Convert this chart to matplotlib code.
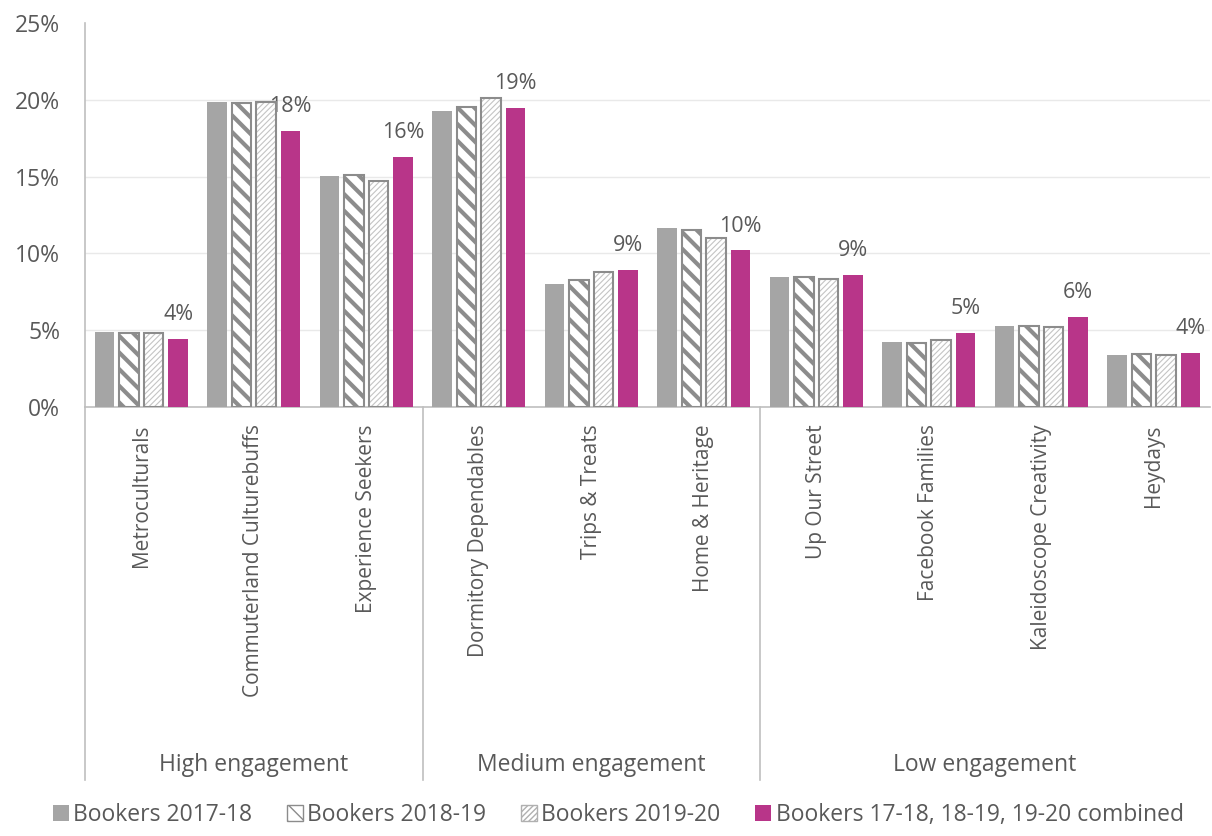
import matplotlib
matplotlib.use("Agg")
import matplotlib.pyplot as plt
import matplotlib.transforms as mtransforms
from matplotlib.patches import Patch

# segment shares by booking year
segments = ["Metroculturals", "Commuterland Culturebuffs", "Experience Seekers",
            "Dormitory Dependables", "Trips & Treats", "Home & Heritage",
            "Up Our Street", "Facebook Families", "Kaleidoscope Creativity", "Heydays"]
groups = ["High engagement", "Medium engagement", "Low engagement"]
group_sizes = [3, 3, 4]

bookers_1718 = [4.88, 19.86, 15.04, 19.27, 8.0, 11.65, 8.46, 4.2, 5.3, 3.4]
bookers_1819 = [4.85, 19.8, 15.1, 19.5, 8.27, 11.5, 8.46, 4.15, 5.27, 3.42]
bookers_1920 = [4.8, 19.86, 14.7, 20.1, 8.8, 11.0, 8.33, 4.36, 5.19, 3.36]
combined = [4.45, 17.97, 16.28, 19.47, 8.92, 10.2, 8.6, 4.8, 5.84, 3.54]

series_names = ["Bookers 2017-18", "Bookers 2018-19", "Bookers 2019-20",
                "Bookers 17-18, 18-19, 19-20 combined"]

GREY = "#A5A5A5"
MAGENTA = "#B83589"
TEXT = "#595959"

plt.rcParams["font.family"] = ["Open Sans", "DejaVu Sans"]

fig = plt.figure(figsize=(12.12, 8.36), dpi=100)
ax = fig.add_axes([85 / 1212, 1 - 407 / 836, 1125 / 1212, 384 / 836])

x = list(range(len(segments)))
step = 0.219
width = 0.173
offs = [-1.5 * step, -0.5 * step, 0.5 * step, 1.5 * step]

ax.bar([i + offs[0] for i in x], bookers_1718, width, color=GREY, zorder=3)

with plt.rc_context({"hatch.linewidth": 3.0}):
    ax.bar([i + offs[1] for i in x], bookers_1819, width, color="white",
           edgecolor="#8C8C8C", hatch="\\\\", linewidth=1.5, zorder=3)

with plt.rc_context({"hatch.linewidth": 0.8}):
    ax.bar([i + offs[2] for i in x], bookers_1920, width, color="white",
           edgecolor="#C4C4C4", hatch="//////", linewidth=0, zorder=3)
ax.bar([i + offs[2] for i in x], bookers_1920, width, color="none",
       edgecolor="#8C8C8C", linewidth=1.5, zorder=4)

ax.bar([i + offs[3] for i in x], combined, width, color=MAGENTA, zorder=3)

for i, v in enumerate(combined):
    ax.annotate(f"{v:.0f}%", (i + offs[3], v), xytext=(0, 17.5), textcoords="offset points",
                ha="center", va="center", fontsize=15.5, color=TEXT)

ax.set_xlim(-0.5, len(segments) - 0.5)
ax.set_ylim(0, 25)
ax.set_yticks([0, 5, 10, 15, 20, 25])
ax.set_yticklabels([f"{t}%" for t in [0, 5, 10, 15, 20, 25]])
ax.tick_params(axis="y", length=0, labelsize=16.5, labelcolor=TEXT, pad=18)
ax.tick_params(axis="x", length=0)
ax.set_xticks([])
for yv in [5, 10, 15, 20]:
    ax.axhline(yv, color="#E9E9E9", linewidth=1, zorder=1)

for s in ["top", "right"]:
    ax.spines[s].set_visible(False)
ax.spines["left"].set_color("#BFBFBF")
ax.spines["bottom"].set_color("#BFBFBF")
ax.spines["left"].set_linewidth(1.2)
ax.spines["bottom"].set_linewidth(1.2)

trans = mtransforms.blended_transform_factory(ax.transData, ax.transAxes)
for i, name in enumerate(segments):
    ax.text(i, -0.045, name, rotation=90, ha="center", va="top", fontsize=15,
            color=TEXT, transform=trans)

start = 0
bottom_y = -373 / 384
for g, n in zip(groups, group_sizes):
    ax.plot([start - 0.5, start - 0.5], [0, bottom_y], color="#BFBFBF", linewidth=1.2,
            transform=trans, clip_on=False)
    ax.text(start + (n - 1) / 2, -358 / 384, g, ha="center", va="center", fontsize=16.5,
            color=TEXT, transform=trans)
    start += n

handles = [Patch(facecolor=GREY),
           Patch(facecolor="white", edgecolor="#8C8C8C", hatch="\\\\"),
           Patch(facecolor="white", edgecolor="#B0B0B0", hatch="//////"),
           Patch(facecolor=MAGENTA)]
fig.legend(handles, series_names, loc="center", bbox_to_anchor=(0.51, 1 - 815 / 836),
           ncol=4, frameon=False, fontsize=16.5, labelcolor=TEXT, handlelength=0.7,
           handleheight=0.7, handletextpad=0.2, columnspacing=1.5)

fig.savefig("out.png", dpi=100)
